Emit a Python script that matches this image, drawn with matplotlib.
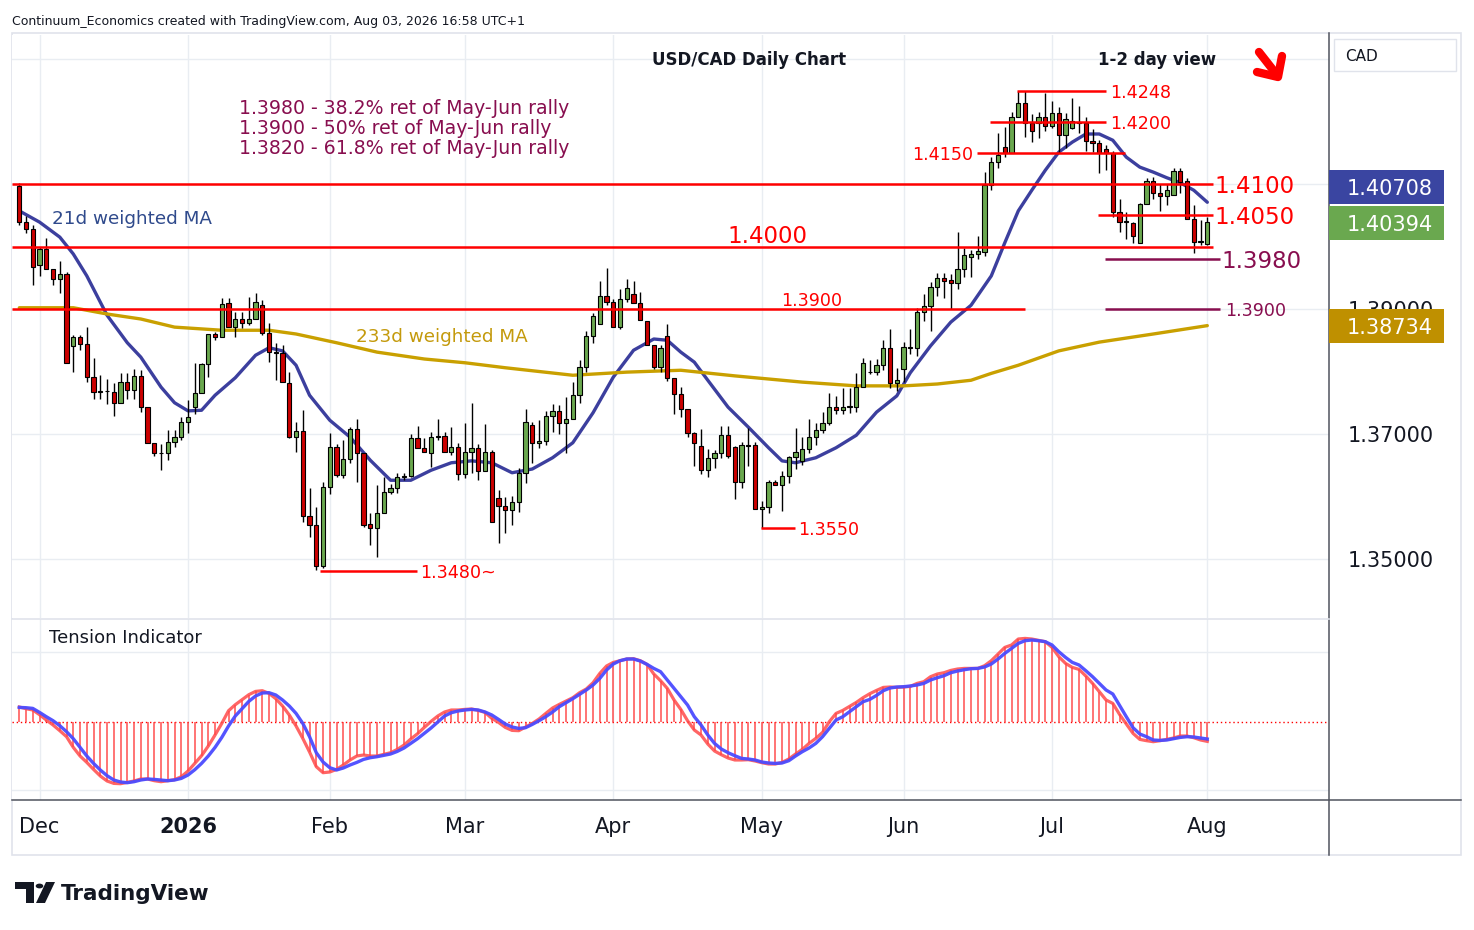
import numpy as np
import matplotlib
matplotlib.use('agg')
import matplotlib.pyplot as plt
from matplotlib.patches import Rectangle, Polygon, Circle
from matplotlib.lines import Line2D

W, H = 1474, 930

# ---- data ----
# bar 0 = 26 Nov 2025, bar 176 = 3 Aug 2026 (weekdays, Xmas/New Year skipped)
month_pos = [3, 25, 46, 66, 88, 110, 131, 153, 176]
month_labels = ['Dec', '2026', 'Feb', 'Mar', 'Apr', 'May', 'Jun', 'Jul', 'Aug']

opens = [1.4097, 1.4039, 1.4028, 1.3970, 1.3996, 1.3964, 1.3948, 1.3956, 1.3841, 1.3855,
         1.3844, 1.3791, 1.3767, 1.3769, 1.3767, 1.3750, 1.3783, 1.3770, 1.3793, 1.3743,
         1.3686, 1.3670, 1.3670, 1.3687, 1.3695, 1.3719, 1.3743, 1.3766, 1.3812, 1.3860,
         1.3855, 1.3910, 1.3871, 1.3884, 1.3878, 1.3884, 1.3906, 1.3862, 1.3831, 1.3830,
         1.3782, 1.3695, 1.3705, 1.3569, 1.3554, 1.3488, 1.3615, 1.3679, 1.3634, 1.3660,
         1.3708, 1.3670, 1.3556, 1.3550, 1.3574, 1.3607, 1.3614, 1.3631, 1.3633, 1.3694,
         1.3678, 1.3670, 1.3695, 1.3697, 1.3671, 1.3679, 1.3636, 1.3671, 1.3678, 1.3641,
         1.3671, 1.3598, 1.3585, 1.3578, 1.3591, 1.3638, 1.3714, 1.3686, 1.3689, 1.3729,
         1.3737, 1.3718, 1.3724, 1.3762, 1.3807, 1.3857, 1.3876, 1.3921, 1.3911, 1.3871,
         1.3916, 1.3924, 1.3910, 1.3881, 1.3842, 1.3807, 1.3857, 1.3790, 1.3764, 1.3740,
         1.3702, 1.3681, 1.3642, 1.3662, 1.3670, 1.3698, 1.3679, 1.3623, 1.3682, 1.3682,
         1.3580, 1.3583, 1.3623, 1.3618, 1.3633, 1.3663, 1.3657, 1.3676, 1.3695, 1.3706,
         1.3718, 1.3743, 1.3738, 1.3743, 1.3743, 1.3775, 1.3800, 1.3799, 1.3810, 1.3838,
         1.3782, 1.3804, 1.3839, 1.3838, 1.3895, 1.3905, 1.3935, 1.3950, 1.3946, 1.3942,
         1.3964, 1.3983, 1.3988, 1.3991, 1.4098, 1.4135, 1.4159, 1.4150, 1.4207, 1.4230,
         1.4198, 1.4198, 1.4207, 1.4193, 1.4214, 1.4178, 1.4190, 1.4200, 1.4198, 1.4169,
         1.4166, 1.4156, 1.4150, 1.4055, 1.4039, 1.4038, 1.4006, 1.4068, 1.4105, 1.4086,
         1.4081, 1.4082, 1.4121, 1.4105, 1.4044, 1.4007, 1.4004]
highs = [1.4102, 1.4049, 1.4034, 1.3999, 1.4014, 1.3964, 1.3977, 1.3959, 1.3858, 1.3858,
         1.3871, 1.3822, 1.3794, 1.3788, 1.3782, 1.3798, 1.3798, 1.3804, 1.3802, 1.3743,
         1.3686, 1.3684, 1.3706, 1.3706, 1.3727, 1.3754, 1.3814, 1.3814, 1.3860, 1.3863,
         1.3918, 1.3918, 1.3895, 1.3895, 1.3919, 1.3926, 1.3914, 1.3878, 1.3846, 1.3843,
         1.3799, 1.3719, 1.3738, 1.3614, 1.3583, 1.3623, 1.3702, 1.3684, 1.3690, 1.3711,
         1.3724, 1.3670, 1.3574, 1.3618, 1.3631, 1.3620, 1.3638, 1.3638, 1.3700, 1.3713,
         1.3694, 1.3703, 1.3724, 1.3703, 1.3711, 1.3686, 1.3718, 1.3750, 1.3684, 1.3716,
         1.3674, 1.3610, 1.3599, 1.3601, 1.3646, 1.3740, 1.3719, 1.3722, 1.3737, 1.3748,
         1.3746, 1.3759, 1.3783, 1.3818, 1.3865, 1.3894, 1.3945, 1.3966, 1.3916, 1.3932,
         1.3948, 1.3945, 1.3927, 1.3881, 1.3842, 1.3842, 1.3876, 1.3790, 1.3775, 1.3740,
         1.3703, 1.3708, 1.3676, 1.3674, 1.3713, 1.3713, 1.3681, 1.3687, 1.3710, 1.3687,
         1.3593, 1.3626, 1.3626, 1.3641, 1.3665, 1.3710, 1.3695, 1.3724, 1.3718, 1.3735,
         1.3766, 1.3761, 1.3774, 1.3774, 1.3798, 1.3822, 1.3818, 1.3820, 1.3850, 1.3868,
         1.3806, 1.3847, 1.3868, 1.3902, 1.3924, 1.3943, 1.3958, 1.3958, 1.3956, 1.4023,
         1.3998, 1.3994, 1.4017, 1.4119, 1.4143, 1.4182, 1.4191, 1.4215, 1.4248, 1.4248,
         1.4212, 1.4215, 1.4246, 1.4233, 1.4223, 1.4214, 1.4238, 1.4225, 1.4207, 1.4188,
         1.4170, 1.4162, 1.4152, 1.4076, 1.4055, 1.4039, 1.4070, 1.4110, 1.4111, 1.4100,
         1.4100, 1.4126, 1.4126, 1.4110, 1.4066, 1.4042, 1.4047]
lows = [1.4034, 1.4022, 1.3938, 1.3953, 1.3964, 1.3938, 1.3926, 1.3814, 1.3799, 1.3834,
        1.3783, 1.3756, 1.3756, 1.3748, 1.3729, 1.3750, 1.3756, 1.3756, 1.3735, 1.3686,
        1.3665, 1.3642, 1.3658, 1.3679, 1.3690, 1.3702, 1.3732, 1.3766, 1.3791, 1.3850,
        1.3855, 1.3871, 1.3855, 1.3869, 1.3874, 1.3884, 1.3858, 1.3815, 1.3786, 1.3783,
        1.3694, 1.3671, 1.3559, 1.3535, 1.3483, 1.3485, 1.3604, 1.3631, 1.3629, 1.3654,
        1.3623, 1.3551, 1.3522, 1.3503, 1.3574, 1.3604, 1.3606, 1.3626, 1.3631, 1.3678,
        1.3671, 1.3647, 1.3690, 1.3671, 1.3666, 1.3626, 1.3629, 1.3638, 1.3626, 1.3641,
        1.3559, 1.3526, 1.3542, 1.3554, 1.3575, 1.3622, 1.3654, 1.3678, 1.3682, 1.3703,
        1.3700, 1.3670, 1.3724, 1.3750, 1.3799, 1.3846, 1.3876, 1.3906, 1.3871, 1.3868,
        1.3911, 1.3910, 1.3882, 1.3842, 1.3804, 1.3799, 1.3785, 1.3732, 1.3727, 1.3695,
        1.3649, 1.3636, 1.3631, 1.3646, 1.3662, 1.3662, 1.3596, 1.3614, 1.3649, 1.3580,
        1.3550, 1.3574, 1.3618, 1.3577, 1.3622, 1.3644, 1.3650, 1.3670, 1.3682, 1.3702,
        1.3714, 1.3732, 1.3732, 1.3734, 1.3735, 1.3775, 1.3796, 1.3794, 1.3802, 1.3774,
        1.3769, 1.3783, 1.3828, 1.3825, 1.3881, 1.3865, 1.3921, 1.3918, 1.3900, 1.3932,
        1.3951, 1.3951, 1.3980, 1.3985, 1.4090, 1.4126, 1.4143, 1.4150, 1.4207, 1.4175,
        1.4167, 1.4174, 1.4185, 1.4190, 1.4150, 1.4158, 1.4188, 1.4182, 1.4153, 1.4151,
        1.4118, 1.4122, 1.4047, 1.4023, 1.4012, 1.4006, 1.4006, 1.4068, 1.4076, 1.4057,
        1.4066, 1.4082, 1.4086, 1.4044, 1.3990, 1.4002, 1.4002]
closes = [1.4039, 1.4028, 1.3967, 1.3996, 1.3964, 1.3948, 1.3956, 1.3814, 1.3855, 1.3844,
          1.3791, 1.3767, 1.3769, 1.3768, 1.3750, 1.3783, 1.3770, 1.3793, 1.3743, 1.3686,
          1.3670, 1.3669, 1.3687, 1.3695, 1.3719, 1.3727, 1.3766, 1.3812, 1.3860, 1.3855,
          1.3908, 1.3871, 1.3884, 1.3878, 1.3884, 1.3911, 1.3862, 1.3831, 1.3830, 1.3783,
          1.3695, 1.3705, 1.3569, 1.3554, 1.3488, 1.3615, 1.3679, 1.3634, 1.3660, 1.3708,
          1.3670, 1.3554, 1.3550, 1.3574, 1.3607, 1.3614, 1.3631, 1.3633, 1.3694, 1.3678,
          1.3671, 1.3695, 1.3697, 1.3671, 1.3679, 1.3636, 1.3671, 1.3678, 1.3641, 1.3671,
          1.3559, 1.3585, 1.3578, 1.3591, 1.3638, 1.3719, 1.3686, 1.3689, 1.3729, 1.3737,
          1.3718, 1.3724, 1.3762, 1.3807, 1.3857, 1.3889, 1.3921, 1.3911, 1.3871, 1.3916,
          1.3934, 1.3910, 1.3882, 1.3842, 1.3807, 1.3838, 1.3790, 1.3764, 1.3740, 1.3702,
          1.3686, 1.3642, 1.3662, 1.3670, 1.3698, 1.3665, 1.3623, 1.3682, 1.3681, 1.3580,
          1.3583, 1.3623, 1.3618, 1.3633, 1.3663, 1.3671, 1.3676, 1.3695, 1.3706, 1.3718,
          1.3743, 1.3738, 1.3743, 1.3745, 1.3775, 1.3814, 1.3799, 1.3810, 1.3838, 1.3782,
          1.3786, 1.3839, 1.3838, 1.3895, 1.3905, 1.3935, 1.3950, 1.3945, 1.3942, 1.3964,
          1.3986, 1.3988, 1.3993, 1.4098, 1.4135, 1.4146, 1.4150, 1.4207, 1.4230, 1.4198,
          1.4185, 1.4207, 1.4193, 1.4214, 1.4178, 1.4204, 1.4200, 1.4198, 1.4169, 1.4166,
          1.4150, 1.4150, 1.4055, 1.4039, 1.4041, 1.4017, 1.4068, 1.4105, 1.4086, 1.4081,
          1.4090, 1.4121, 1.4103, 1.4044, 1.4007, 1.4009, 1.40394]

# 21d weighted MA (bar, value) and 233d weighted MA (bar, value)
ma21_bar = [0, 3, 6, 8, 10, 13, 16, 18, 21, 23, 25, 27, 29, 32, 35, 37, 39, 41, 43, 46,
            49, 52, 55, 58, 61, 64, 67, 70, 73, 76, 79, 82, 85, 88, 91, 94, 96, 98, 100,
            102, 105, 108, 111, 113, 115, 118, 121, 124, 127, 130, 132, 135, 138, 141,
            144, 146, 148, 150, 152, 154, 156, 158, 160, 162, 164, 166, 168, 170, 172,
            174, 176]
ma21_val = [1.4057, 1.4039, 1.4015, 1.3988, 1.3953, 1.3890, 1.3846, 1.3823, 1.3775,
            1.3750, 1.3737, 1.3738, 1.3762, 1.3790, 1.3826, 1.3838, 1.3833, 1.3810,
            1.3762, 1.3722, 1.3695, 1.3658, 1.3626, 1.3626, 1.3642, 1.3654, 1.3657,
            1.3654, 1.3638, 1.3644, 1.3662, 1.3686, 1.3734, 1.3791, 1.3834, 1.3852,
            1.3850, 1.3831, 1.3815, 1.3786, 1.3743, 1.3711, 1.3678, 1.3657, 1.3654,
            1.3662, 1.3678, 1.3698, 1.3735, 1.3761, 1.3798, 1.3841, 1.3879, 1.3906,
            1.3953, 1.4006, 1.4057, 1.4090, 1.4122, 1.4151, 1.4167, 1.4180, 1.4180,
            1.4170, 1.4143, 1.4127, 1.4119, 1.4110, 1.4102, 1.4090, 1.40708]
ma233_bar = [0, 8, 13, 18, 23, 30, 37, 41, 47, 53, 60, 66, 72, 82, 90, 98, 106, 116,
             124, 131, 136, 141, 144, 148, 154, 160, 168, 176]
ma233_val = [1.3902, 1.3902, 1.3892, 1.3884, 1.3871, 1.3866, 1.3866, 1.3860, 1.3846,
             1.3831, 1.3820, 1.3814, 1.3806, 1.3794, 1.3799, 1.3802, 1.3793, 1.3783,
             1.3777, 1.3777, 1.3780, 1.3786, 1.3797, 1.3810, 1.3833, 1.3847, 1.3860,
             1.38734]

# Tension indicator: oscillator (red) and its signal (blue)
tension = [14.7, 13.0, 11.7, 7.0, 1.7, -3.3, -9.0, -15.0, -25.7, -34.3,
           -40.7, -47.7, -54.3, -59.3, -61.7, -62.0, -60.7, -59.3, -57.3, -57.3,
           -59.0, -60.0, -59.0, -58.0, -55.0, -49.3, -41.7, -34.0, -24.3, -13.3,
           -1.7, 11.0, 17.0, 22.0, 27.0, 30.3, 31.0, 28.3, 23.0, 15.7,
           6.7, -4.3, -16.7, -30.3, -45.0, -51.0, -50.3, -47.7, -43.3, -38.3,
           -34.3, -33.3, -34.3, -34.3, -32.7, -31.0, -27.7, -23.3, -17.3, -12.0,
           -5.7, 0.3, 5.7, 9.7, 11.7, 11.7, 12.3, 12.7, 11.3, 9.3,
           3.3, -0.7, -5.7, -8.7, -9.0, -5.3, -1.7, 2.7, 8.3, 13.7,
           17.3, 20.7, 24.0, 29.0, 32.7, 39.0, 48.3, 55.7, 59.3, 61.0,
           62.7, 63.0, 61.0, 57.3, 47.7, 41.0, 33.3, 21.7, 12.3, 1.0,
           -8.3, -13.3, -22.3, -29.3, -33.0, -36.3, -38.3, -38.3, -38.0, -39.3,
           -41.0, -42.3, -42.3, -40.7, -37.3, -32.3, -27.7, -21.7, -16.7, -10.7,
           0.0, 8.3, 11.3, 15.3, 19.3, 24.0, 28.0, 31.3, 34.3, 34.7,
           34.3, 34.7, 35.3, 38.3, 40.0, 45.0, 47.7, 49.0, 51.3, 52.7,
           53.3, 53.3, 53.3, 56.0, 61.0, 67.7, 74.3, 76.7, 82.7, 83.3,
           82.7, 81.3, 80.0, 74.3, 65.0, 58.3, 54.3, 52.3, 45.7, 38.3,
           30.0, 21.7, 18.3, 7.3, -2.3, -11.7, -17.7, -19.0, -20.0, -19.0,
           -17.7, -16.3, -14.3, -14.3, -16.0, -18.3, -19.7]
signal = [14.3, 14.0, 13.3, 9.3, 5.0, 1.0, -4.0, -10.0, -17.0, -25.7,
          -34.3, -41.7, -48.3, -54.0, -58.3, -60.3, -61.0, -60.0, -58.3, -57.3,
          -57.7, -58.3, -59.0, -58.3, -56.7, -53.3, -48.0, -41.7, -34.3, -25.7,
          -15.7, -4.3, 5.7, 13.0, 20.3, 25.7, 28.7, 29.0, 26.7, 21.7,
          15.7, 8.3, -1.7, -15.0, -31.0, -40.3, -46.0, -48.3, -46.3, -43.3,
          -40.7, -37.7, -36.0, -35.0, -33.7, -32.3, -29.7, -26.3, -21.7, -17.0,
          -11.7, -6.3, -0.3, 5.7, 9.0, 10.7, 11.7, 12.3, 11.7, 9.7,
          6.7, 2.3, -2.3, -5.3, -6.7, -6.0, -2.7, 1.0, 5.0, 9.7,
          15.0, 19.0, 23.0, 27.3, 31.7, 36.7, 43.3, 51.7, 57.7, 61.0,
          62.7, 62.7, 60.7, 57.3, 53.3, 50.0, 41.7, 33.3, 25.0, 16.7,
          5.0, -3.3, -13.3, -21.7, -27.3, -31.0, -34.0, -36.7, -37.3, -38.3,
          -40.3, -41.3, -41.7, -41.3, -39.0, -34.3, -30.0, -26.3, -21.7, -15.0,
          -6.7, 1.7, 5.0, 10.0, 15.0, 20.0, 22.3, 26.3, 31.0, 33.7,
          34.7, 35.0, 35.7, 36.7, 38.3, 41.7, 44.0, 46.0, 49.0, 50.7,
          52.0, 53.0, 53.3, 54.7, 57.7, 62.7, 68.3, 73.3, 78.3, 81.0,
          81.7, 81.0, 80.0, 76.7, 70.0, 64.3, 59.3, 56.7, 51.0, 45.0,
          38.3, 31.7, 27.7, 16.3, 5.0, -6.0, -12.3, -15.0, -18.3, -18.7,
          -18.3, -17.0, -15.7, -15.0, -15.3, -16.3, -17.3]

ret_notes = ['1.3980 - 38.2% ret of May-Jun rally',
             '1.3900 - 50% ret of May-Jun rally',
             '1.3820 - 61.8% ret of May-Jun rally']
axis_prices = [1.35, 1.37, 1.39]
grid_prices = [1.35, 1.37, 1.39, 1.41, 1.43]


def fx(x):
    return x / W


def fy(y):
    return 1 - y / H


def bx(x):
    # pixel column -> bar position, used only to place annotations
    return (x - 19.3) / 6.75


RED = '#ff0000'
PURPLE = '#880e4f'
INK = '#131722'
GRID = '#e9edf2'

fig = plt.figure(figsize=(W / 100, H / 100), dpi=100)
fig.patch.set_facecolor('white')

ax = fig.add_axes([fx(12), fy(618), (1329 - 12) / W, (618 - 35) / H])
ax2 = fig.add_axes([fx(12), fy(800), (1329 - 12) / W, (800 - 619) / H])
for a in (ax, ax2):
    a.set_xlim(bx(12), bx(1329))
    for s in a.spines.values():
        s.set_visible(False)
    a.tick_params(length=0)
ax.set_ylim(1.34056, 1.43384)
ax2.set_ylim(-78.3, 102.7)
ax.set_xticks([])
ax.set_yticks([])
ax2.set_yticks([])

# grid
for p in grid_prices:
    ax.axhline(p, color=GRID, lw=1, zorder=0)
for m in month_pos:
    ax.axvline(m, color=GRID, lw=1, zorder=0)
    ax2.axvline(m, color=GRID, lw=1, zorder=0)
for g in (69.7, -68.3):
    ax2.axhline(g, color=GRID, lw=1, zorder=0)

# candles
o = np.array(opens)
h = np.array(highs)
l = np.array(lows)
c = np.array(closes)
idx = np.arange(len(c))
body = c - o
body = np.where(np.abs(body) < 0.00004, np.where(body >= 0, 0.00004, -0.00004), body)
cols = np.where(c >= o, '#6aa84f', '#cc0000')
ax.vlines(idx, l, h, color='black', lw=1, zorder=3)
ax.bar(idx, body, bottom=o, width=0.64, color=cols, edgecolor='black', linewidth=0.8, zorder=4)

# moving averages
ax.plot(ma21_bar, ma21_val, color='#3c3f9e', lw=2.4, zorder=2, solid_capstyle='round')
ax.plot(ma233_bar, ma233_val, color='#c9a000', lw=2.4, zorder=2, solid_capstyle='round')
ax.text(bx(52), 1.4047, '21d weighted MA', color='#2f4a8c', fontsize=13.2,
        va='center_baseline', ha='left', zorder=6)
ax.text(bx(356), 1.3858, '233d weighted MA', color='#c49a0c', fontsize=13.2,
        va='center_baseline', ha='left', zorder=6)

# support / resistance levels
ax.hlines(1.4100, bx(12), bx(1213), color=RED, lw=1.8, zorder=5)
ax.hlines(1.4000, bx(12), bx(1213), color=RED, lw=1.8, zorder=5)
ax.hlines(1.4050, bx(1098), bx(1213), color=RED, lw=1.8, zorder=5)
ax.hlines(1.4150, bx(977), bx(1125), color=RED, lw=1.8, zorder=5)
ax.hlines(1.4200, bx(990), bx(1106), color=RED, lw=1.8, zorder=5)
ax.hlines(1.4248, bx(1017), bx(1106), color=RED, lw=1.8, zorder=5)
ax.hlines(1.3900, bx(12), bx(1025), color=RED, lw=1.8, zorder=5)
ax.hlines(1.3550, bx(761), bx(795), color=RED, lw=1.8, zorder=5)
ax.hlines(1.3480, bx(320), bx(417), color=RED, lw=1.8, zorder=5)
ax.hlines(1.3980, bx(1105), bx(1220), color=PURPLE, lw=1.8, zorder=5)
ax.hlines(1.3900, bx(1105), bx(1220), color=PURPLE, lw=1.8, zorder=5)

big = 16.5
small = 12.6
ax.text(bx(1214), 1.4100, '1.4100', color=RED, fontsize=big, va='center_baseline', zorder=6)
ax.text(bx(1214), 1.4050, '1.4050', color=RED, fontsize=big, va='center_baseline', zorder=6)
ax.text(bx(1221), 1.3980, '1.3980', color=PURPLE, fontsize=big, va='center_baseline', zorder=6)
ax.text(bx(1225), 1.3900, '1.3900', color=PURPLE, fontsize=small, va='center_baseline', zorder=6)
ax.text(bx(1110), 1.4248, '1.4248', color=RED, fontsize=small, va='center_baseline', zorder=6)
ax.text(bx(1110), 1.4200, '1.4200', color=RED, fontsize=small, va='center_baseline', zorder=6)
ax.text(bx(973), 1.4150, '1.4150', color=RED, fontsize=small, va='center_baseline',
        ha='right', zorder=6)
ax.text(bx(798), 1.3550, '1.3550', color=RED, fontsize=small, va='center_baseline', zorder=6)
ax.text(bx(420), 1.3480, '1.3480~', color=RED, fontsize=small, va='center_baseline', zorder=6)
ax.annotate('1.4000', xy=(bx(767), 1.4000), xytext=(0, 2.5), textcoords='offset points',
            ha='center', va='baseline', color=RED, fontsize=big, zorder=6)
ax.annotate('1.3900', xy=(bx(812), 1.3900), xytext=(0, 2.5), textcoords='offset points',
            ha='center', va='baseline', color=RED, fontsize=small, zorder=6)

for k, note in enumerate(ret_notes):
    fig.text(fx(239), fy(106 + 20 * k), note, color=PURPLE, fontsize=13.6, va='center_baseline')

# titles
fig.text(fx(749), fy(58), 'USD/CAD Daily Chart', fontsize=12, fontweight='bold',
         ha='center', va='center_baseline', color=INK)
fig.text(fx(1157), fy(58), '1-2 day view', fontsize=12, fontweight='bold',
         ha='center', va='center_baseline', color=INK)
fig.text(fx(12), fy(20), 'Continuum_Economics created with TradingView.com, Aug 03, 2026 16:58 UTC+1',
         fontsize=9, va='center_baseline', color=INK)

# red arrow
fig.add_artist(Line2D([fx(1259), fx(1277)], [fy(52), fy(75)], color=RED, lw=6,
                      solid_capstyle='round'))
fig.add_artist(Line2D([fx(1257), fx(1278), fx(1282)], [fy(72), fy(77), fy(56)], color=RED,
                      lw=6, solid_joinstyle='round', solid_capstyle='round'))

# tension indicator pane
ax2.axhline(0, color=RED, lw=1, ls=(0, (1, 2)), zorder=1)
ax2.vlines(idx, 0, tension, color='#ff3b3b', lw=1.1, alpha=0.9, zorder=2)
ax2.plot(idx, tension, color='#ff4a4a', lw=2.3, alpha=0.85, zorder=3)
ax2.plot(idx, signal, color='#4b4bff', lw=2.4, alpha=0.95, zorder=4)
ax2.text(bx(49), 86, 'Tension Indicator', fontsize=13, color=INK, va='center_baseline')

ax2.set_xticks(month_pos)
ax2.set_xticklabels(month_labels, fontsize=15, color=INK)
ax2.tick_params(axis='x', pad=12)
ax2.get_xticklabels()[1].set_fontweight('bold')

# right price scale (1.39000 sits partly under the 233d MA tag, as in the original)
for p in axis_prices:
    ax.text(1 + 19 / 1317, p, '%.5f' % p, transform=ax.get_yaxis_transform(),
            fontsize=15, color=INK, va='center_baseline', ha='left', clip_on=False)

tags = [(170, '1.40708', '#3a45a1'), (206, '1.40394', '#6aa84f'), (309, '1.38734', '#bf9000')]
for top, txt, col in tags:
    fig.add_artist(Rectangle((fx(1329), fy(top + 34)), 115 / W, 34 / H, facecolor=col,
                             edgecolor='none', transform=fig.transFigure, zorder=10))
    fig.text(fx(1390), fy(top + 17), txt, fontsize=15, color='white', ha='center',
             va='center_baseline', zorder=11)

# CAD box
fig.add_artist(Rectangle((fx(1334), fy(71)), 122 / W, 32 / H, facecolor='white',
                         edgecolor='#e0e3eb', lw=1, transform=fig.transFigure, zorder=10))
fig.text(fx(1345), fy(55), 'CAD', fontsize=11, color=INK, va='center_baseline', zorder=11)

# frame lines
fig.add_artist(Rectangle((fx(12), fy(855)), (1461 - 12) / W, (855 - 33) / H, facecolor='none',
                         edgecolor='#e0e3eb', lw=1.2, transform=fig.transFigure, zorder=0))
fig.add_artist(Line2D([fx(1329), fx(1329)], [fy(33), fy(855)], color='#50535e', lw=1.1))
fig.add_artist(Line2D([fx(12), fx(1461)], [fy(800), fy(800)], color='#50535e', lw=1.1))
fig.add_artist(Line2D([fx(12), fx(1329)], [fy(619), fy(619)], color='#e0e3eb', lw=1.2))

# TradingView logo
fig.add_artist(Polygon([(fx(15), fy(882)), (fx(34), fy(882)), (fx(34), fy(903)),
                        (fx(26), fy(903)), (fx(26), fy(889)), (fx(15), fy(889))],
                       closed=True, facecolor=INK, edgecolor='none', transform=fig.transFigure))
fig.add_artist(Circle((fx(39.5), fy(886)), 3.8 / W, facecolor=INK, edgecolor='none',
                      transform=fig.transFigure))
fig.add_artist(Polygon([(fx(46), fy(882)), (fx(55), fy(882)), (fx(45), fy(903)), (fx(36), fy(903))],
                       closed=True, facecolor=INK, edgecolor='none', transform=fig.transFigure))
fig.text(fx(61), fy(892), 'TradingView', fontsize=15.5, fontweight='bold', color=INK,
         va='center_baseline')

fig.savefig('out.png', dpi=100)
